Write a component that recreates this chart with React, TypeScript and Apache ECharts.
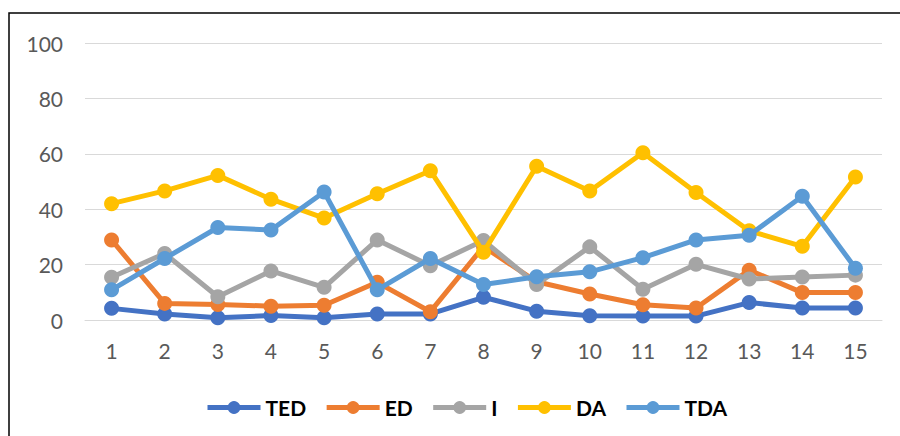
import React, { useEffect, useRef } from "react";
import * as echarts from "echarts";

const categories = ["1", "2", "3", "4", "5", "6", "7", "8", "9", "10", "11", "12", "13", "14", "15"];
const seriesNames = ["TED", "ED", "I", "DA", "TDA"];
const seriesColors = ["#4472C4", "#ED7D31", "#A5A5A5", "#FFC000", "#5B9BD5"];
const TED = [4.2, 2.2, 0.8, 1.6, 0.8, 2.2, 2.2, 8.2, 3.2, 1.5, 1.4, 1.4, 6.3, 4.3, 4.3];
const ED = [28.9, 6.0, 5.6, 5.0, 5.3, 13.6, 3.0, 26.5, 13.8, 9.4, 5.5, 4.3, 18.0, 9.9, 9.9];
const I = [15.4, 24.0, 8.4, 17.7, 11.8, 28.9, 19.6, 28.7, 12.8, 26.4, 11.1, 20.1, 14.8, 15.5, 16.2];
const DA = [42.0, 46.6, 52.2, 43.6, 36.8, 45.6, 53.9, 24.5, 55.5, 46.6, 60.4, 46.0, 32.2, 26.6, 51.6];
const TDA = [10.9, 22.2, 33.4, 32.5, 46.2, 10.9, 22.2, 12.8, 15.6, 17.4, 22.5, 28.9, 30.6, 44.7, 18.7];
const seriesValues = [TED, ED, I, DA, TDA];
const yTicks = { min: 0, max: 100, interval: 20 };

export default function App() {
  const ref = useRef<HTMLDivElement>(null);
  useEffect(() => {
    document.body.style.margin = "0";
    if (!ref.current) return;
    const chart = echarts.init(ref.current, null, { renderer: "svg" });
    const font = "Lato, 'Open Sans', sans-serif";
    chart.setOption({
      animation: false,
      backgroundColor: "#ffffff",
      textStyle: { fontFamily: font },
      graphic: [
        {
          type: "rect",
          shape: { x: 9, y: 13, width: 900, height: 430 },
          style: { fill: "none", stroke: "#000000", lineWidth: 1.5 },
          silent: true,
        },
      ],
      grid: { left: 85, right: 18, top: 43, bottom: 116, containLabel: false },
      legend: {
        left: 205,
        top: 397,
        padding: 0,
        itemWidth: 53,
        itemHeight: 16,
        itemGap: 18,
        lineStyle: { width: 5 },
        textStyle: { fontFamily: font, fontSize: 21, fontWeight: "bold", color: "#000000" },
        data: seriesNames,
      },
      xAxis: {
        type: "category",
        data: categories,
        boundaryGap: true,
        axisLine: { show: true, lineStyle: { color: "#d9d9d9", width: 1 } },
        axisTick: { show: false },
        axisLabel: { color: "#595959", fontSize: 21, fontFamily: font, margin: 20 },
      },
      yAxis: {
        type: "value",
        min: yTicks.min,
        max: yTicks.max,
        interval: yTicks.interval,
        axisLine: { show: false },
        axisTick: { show: false },
        axisLabel: { color: "#595959", fontSize: 21, fontFamily: font, margin: 22 },
        splitLine: { lineStyle: { color: "#d9d9d9", width: 1 } },
      },
      series: seriesNames.map((name, i) => ({
        name,
        type: "line",
        data: seriesValues[i],
        symbol: "circle",
        symbolSize: 15,
        lineStyle: { color: seriesColors[i], width: 5 },
        itemStyle: { color: seriesColors[i] },
        z: 2 + i,
      })),
    });
    return () => chart.dispose();
  }, []);
  return <div ref={ref} style={{ width: 900, height: 436 }} />;
}
